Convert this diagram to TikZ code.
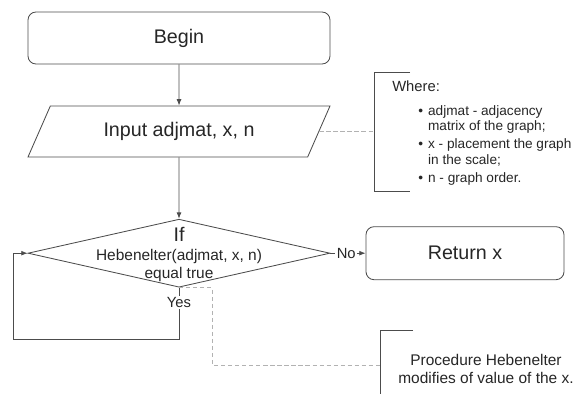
\documentclass[tikz,border=0pt]{standalone}
\usepackage{fontspec}
\setmainfont{Liberation Sans}
\usetikzlibrary{shapes.geometric,arrows.meta}
\tikzset{
	box/.style={draw=black!70,line width=0.6pt,rounded corners=0.2cm,minimum height=1.3cm,font=\fontsize{14}{16}\selectfont,text=black!85},
	inout/.style={draw=black!70,line width=0.6pt,trapezium,trapezium left angle=39.4,trapezium right angle=140.6,trapezium stretches body,minimum width=7.55cm,minimum height=1.275cm,inner sep=0pt,font=\fontsize{14}{16}\selectfont,text=black!85},
	choice/.style={draw=black!70,line width=0.6pt,diamond,inner sep=0pt,minimum width=7.55cm,minimum height=1.7cm},
	flow/.style={draw=black!70,line width=0.6pt,-{Latex[length=4.5pt,width=3.5pt]}},
	note/.style={draw=black!30,line width=0.6pt,dash pattern=on 3pt off 2pt},
	bracket/.style={draw=black!70,line width=0.7pt},
	label/.style={font=\fontsize{10.5}{12.8}\selectfont,text=black!85,fill=white,inner sep=1pt},
	notetext/.style={font=\fontsize{9.7}{11}\selectfont,text=black!85,inner sep=0pt,align=left}
}
\begin{document}
\begin{tikzpicture}
	\useasboundingbox (0,0) rectangle (14.35,9.85);
	\node[box,minimum width=7.55cm] (begin) at (4.475,8.9) {Begin};
	\node[inout] (input) at (4.475,6.5625) {Input adjmat, x, n};
	\node[choice] (if) at (4.475,3.52) {};
	\node[font=\fontsize{14}{16}\selectfont,text=black!85] (iftxt) at (4.475,4.0) {If};
	\node[font=\fontsize{11}{12.8}\selectfont,text=black!85,align=center] (cond) at (4.475,3.2) {Hebenelter(adjmat, x, n)\\equal true};
	\node[box,minimum width=4.95cm,minimum height=1.325cm] (ret) at (11.625,3.52) {Return x};
	\draw[flow] (begin) -- (input);
	\draw[flow] (input) -- (if);
	\draw[flow] (if.east) -- node[label,pos=0.45]{No} (ret.west);
	\coordinate (back) at (0.325,1.375);
	\draw[flow] (if.south) -- node[label,pos=0.29]{Yes} (if.south |- back) -- (back) |- (if.west);
	% where note
	\coordinate (wtop) at (9.35,8.05);
	\coordinate (wbot) at (9.35,5.075);
	\draw[note] (input.east) -- (input.east -| wtop);
	\draw[bracket] ([xshift=0.9cm]wtop) -- (wtop) -- (wbot) -- ([xshift=0.9cm]wbot);
	\node[notetext,font=\fontsize{10.5}{12}\selectfont,anchor=west] (where) at (9.8,7.7) {Where:};
	\node[notetext,anchor=north west] (wlist) at (10.45,7.22) {\makebox[7pt][l]{\textbullet}adjmat - adjacency\\
		\hspace*{7pt}matrix of the graph;\\[1.8pt]
		\makebox[7pt][l]{\textbullet}x - placement the graph\\
		\hspace*{7pt}in the scale;\\[1.8pt]
		\makebox[7pt][l]{\textbullet}n - graph order.};
	% procedure note
	\coordinate (ptop) at (9.5,1.6);
	\coordinate (pmid) at (9.5,0.725);
	\coordinate (pbot) at (9.5,-0.2);
	\draw[note] (if.south) -- ++(0.825,0) |- (pmid);
	\draw[bracket] ([xshift=0.825cm]ptop) -- (ptop) -- (pbot);
	\node[font=\fontsize{11}{12.8}\selectfont,text=black!85,align=center] (proc) at (12.15,0.625) {Procedure Hebenelter\\modifies of value of the x.};
\end{tikzpicture}
\end{document}
